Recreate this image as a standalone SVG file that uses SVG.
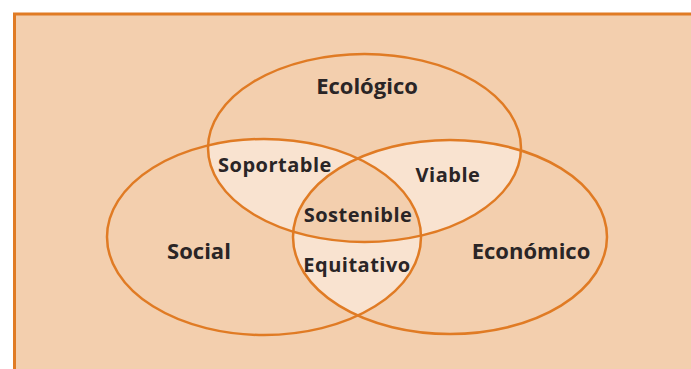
<svg xmlns="http://www.w3.org/2000/svg" width="691" height="369" viewBox="0 0 691 369">
<style>
.bg{fill:#F3CFAE}
.lt{fill:#F9E3D0}
.ring{fill:none;stroke:#E07B24;stroke-width:2.5}
.lbl{font-family:"Open Sans","DejaVu Sans",sans-serif;font-weight:700;fill:#2A2526;text-anchor:middle}
.big{font-size:22px}
.sm{font-size:20px;letter-spacing:0.5px}
</style>
<defs>
<clipPath id="cE"><ellipse cx="364.5" cy="148" rx="156.5" ry="94"/></clipPath>
<clipPath id="cS"><ellipse cx="264" cy="237" rx="157" ry="98"/></clipPath>
<clipPath id="cC"><ellipse cx="450" cy="237" rx="157" ry="97"/></clipPath>
</defs>
<rect x="14.5" y="14" width="690" height="370" class="bg" stroke="#E07B24" stroke-width="3"/>
<g id="overlaps">
<g clip-path="url(#cE)"><ellipse cx="264" cy="237" rx="157" ry="98" class="lt"/><ellipse cx="450" cy="237" rx="157" ry="97" class="lt"/></g>
<g clip-path="url(#cS)"><ellipse cx="450" cy="237" rx="157" ry="97" class="lt"/></g>
<g clip-path="url(#cS)"><g clip-path="url(#cC)"><ellipse cx="364.5" cy="148" rx="156.5" ry="94" class="bg"/></g></g>
</g>
<g id="ecologico"><ellipse cx="364.5" cy="148" rx="156.5" ry="94" class="ring"/><text x="367" y="94" class="lbl big">Ecológico</text></g>
<g id="social"><ellipse cx="264" cy="237" rx="157" ry="98" class="ring"/><text x="199" y="259" class="lbl big">Social</text></g>
<g id="economico"><ellipse cx="450" cy="237" rx="157" ry="97" class="ring"/><text x="531" y="259" class="lbl big">Económico</text></g>
<g id="soportable"><text x="275" y="172" class="lbl sm">Soportable</text></g>
<g id="viable"><text x="448" y="182" class="lbl sm">Viable</text></g>
<g id="sostenible"><text x="358" y="222" class="lbl sm">Sostenible</text></g>
<g id="equitativo"><text x="357" y="272" class="lbl sm">Equitativo</text></g>
</svg>
